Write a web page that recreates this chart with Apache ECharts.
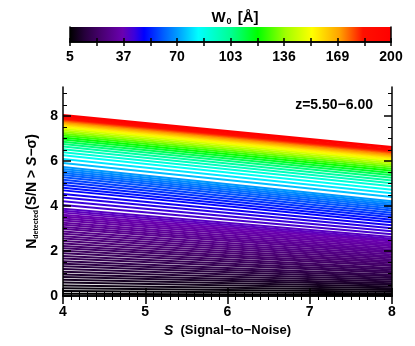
<!DOCTYPE html>
<html>
<head>
<meta charset="utf-8">
<script src="https://cdn.jsdelivr.net/npm/echarts@6/dist/echarts.min.js"></script>
<style>
  html, body { margin: 0; padding: 0; background: #fff; }
  #chart { width: 415px; height: 346px; }
</style>
</head>
<body>
<div id="chart"></div>
<script>
// one line per equivalent width W0 [A]
const w0List = [
  5, 6, 7, 8, 9, 10, 11, 12, 13, 14, 15, 16, 17, 18, 19, 20, 21, 22, 23, 24,
  25, 26, 27, 28, 29, 30, 31, 32, 33, 34, 35, 36, 37, 38, 39, 40,
  42, 44, 46, 48, 50, 52, 54, 56, 58, 60, 62, 64, 66, 68, 70,
  75, 80, 85, 90, 95, 100, 105, 110, 115, 120, 125, 130, 135, 140, 145,
  150, 155, 160, 165, 170, 175, 180, 185, 190, 195, 200
]
// N_detected read at S = 4 (left edge)
const nAtS4 = [
  0.10, 0.22, 0.35, 0.47, 0.60, 0.72, 0.84, 0.96, 1.08, 1.20, 1.32, 1.44, 1.55, 1.67, 1.78, 1.90, 2.01, 2.12, 2.23, 2.34,
  2.45, 2.56, 2.66, 2.77, 2.87, 2.98, 3.07, 3.17, 3.26, 3.36, 3.45, 3.54, 3.62, 3.71, 3.79, 3.88,
  4.05, 4.22, 4.38, 4.54, 4.70, 4.82, 4.94, 5.06, 5.17, 5.28, 5.38, 5.47, 5.56, 5.65, 5.74,
  5.92, 6.10, 6.26, 6.40, 6.53, 6.65, 6.76, 6.86, 6.96, 7.05, 7.14, 7.22, 7.30, 7.37, 7.44,
  7.51, 7.57, 7.63, 7.69, 7.74, 7.80, 7.85, 7.90, 7.95, 8.00, 8.05
]
// N_detected read at S = 8 (right edge)
const nAtS8 = [
  0.04, 0.11, 0.19, 0.27, 0.34, 0.42, 0.50, 0.57, 0.65, 0.72, 0.80, 0.88, 0.95, 1.03, 1.10, 1.18, 1.25, 1.33, 1.40, 1.48,
  1.55, 1.62, 1.70, 1.77, 1.85, 1.92, 1.99, 2.06, 2.14, 2.21, 2.28, 2.35, 2.42, 2.48, 2.55, 2.62,
  2.75, 2.88, 3.02, 3.15, 3.28, 3.39, 3.50, 3.60, 3.70, 3.80, 3.89, 3.98, 4.06, 4.14, 4.22,
  4.40, 4.57, 4.73, 4.88, 5.02, 5.14, 5.26, 5.37, 5.47, 5.57, 5.66, 5.75, 5.83, 5.91, 5.98,
  6.05, 6.12, 6.18, 6.24, 6.30, 6.36, 6.42, 6.47, 6.52, 6.58, 6.63
]

// colour table (W0 -> colour)
const cbarStopW = [5, 14, 24, 37, 44, 50, 62, 72, 83, 103, 119, 136, 152, 169, 183, 200]
const cbarStopColor = ['#000000', '#26003c', '#480070', '#6a00b0', '#3c00dc', '#0000ff', '#0060ff', '#00a8ff',
  '#00ffff', '#00ff90', '#00ff00', '#a0ff00', '#ffff00', '#ffa000', '#ff1000', '#ff0000']
const cbarTickValues = [5, 37.5, 70, 102.5, 135, 167.5, 200]
const cbarTickLabels = ['5', '37', '70', '103', '136', '169', '200']
const cbarSmallTicks = [5, 21.25, 37.5, 53.75, 70, 86.25, 102.5, 118.75, 135, 151.25, 167.5, 183.75, 200]
const yMajorTicks = [0, 2, 4, 6, 8]
const yMinorTicks = [0.5, 1, 1.5, 2.5, 3, 3.5, 4.5, 5, 5.5, 6.5, 7, 7.5, 8.5, 9]

function hexRgb(h) {
  return [parseInt(h.slice(1, 3), 16), parseInt(h.slice(3, 5), 16), parseInt(h.slice(5, 7), 16)]
}
function w0Color(w) {
  let i = 0
  while (i < cbarStopW.length - 2 && w > cbarStopW[i + 1]) i++
  const t = Math.min(1, Math.max(0, (w - cbarStopW[i]) / (cbarStopW[i + 1] - cbarStopW[i])))
  const a = hexRgb(cbarStopColor[i])
  const b = hexRgb(cbarStopColor[i + 1])
  const c = a.map((v, k) => Math.round(v + (b[k] - v) * t))
  return 'rgb(' + c.join(',') + ')'
}

const chart = echarts.init(document.getElementById('chart'))
const FONT = 'Liberation Sans'
const cbarGradient = new echarts.graphic.LinearGradient(0, 0, 1, 0,
  cbarStopW.map((w, i) => ({ offset: (w - 5) / 195, color: cbarStopColor[i] })))

const lineSeries = w0List.map((w, i) => ({
  type: 'line',
  xAxisIndex: 0,
  yAxisIndex: 0,
  data: [[4, nAtS4[i]], [8, nAtS8[i]]],
  showSymbol: false,
  silent: true,
  lineStyle: { width: 2, color: w0Color(w) }
}))

const black = { color: '#000', width: 1.5 }

const option = {
  animation: false,
  backgroundColor: '#fff',
  textStyle: { fontFamily: FONT },
  title: [
    {
      text: '{a|W}{s|0}{a| [Å]}',
      left: 230, top: 4, textAlign: 'center',
      textStyle: {
        rich: {
          a: { fontFamily: FONT, fontSize: 15, fontWeight: 'bold', color: '#000' },
          s: { fontFamily: FONT, fontSize: 9, fontWeight: 'bold', color: '#000', padding: [8, 2, 0, 1] }
        }
      }
    },
    {
      text: 'z=5.50\u22126.00',
      right: 37, top: 93,
      textStyle: { fontFamily: FONT, fontSize: 14, fontWeight: 'bold', color: '#000' }
    }
  ],
  grid: [
    { left: 63, right: 23, top: 87, bottom: 50 },
    { left: 70, right: 24, top: 27, height: 15 }
  ],
  xAxis: [
    {
      gridIndex: 0, type: 'value', min: 4, max: 8, interval: 1, position: 'bottom', z: 10,
      name: '{i|S}{a|  (Signal\u2212to\u2212Noise)}', nameLocation: 'middle', nameGap: 25,
      nameTextStyle: {
        rich: {
          i: { fontFamily: FONT, fontSize: 14, fontWeight: 'bold', fontStyle: 'italic', color: '#000' },
          a: { fontFamily: FONT, fontSize: 13, fontWeight: 'bold', color: '#000' }
        }
      },
      axisLine: { show: true, lineStyle: black },
      axisTick: { inside: true, length: 8, lineStyle: black },
      minorTick: { show: true, splitNumber: 10, length: 4, lineStyle: { color: '#000', width: 1 } },
      axisLabel: { margin: 9, color: '#000', fontSize: 14, fontWeight: 'bold', fontFamily: FONT },
      splitLine: { show: false }
    },
    {
      gridIndex: 0, type: 'value', min: 4, max: 8, interval: 1, position: 'top', z: 10,
      axisLine: { show: true, lineStyle: black },
      axisTick: { inside: true, length: 8, lineStyle: black },
      minorTick: { show: true, splitNumber: 10, length: 4, lineStyle: { color: '#000', width: 1 } },
      axisLabel: { show: false },
      splitLine: { show: false }
    },
    {
      gridIndex: 1, type: 'value', min: 5, max: 200, position: 'bottom', z: 10,
      axisLine: { show: true, lineStyle: black },
      axisTick: { show: true, inside: true, length: 4, customValues: cbarSmallTicks, lineStyle: black },
      axisLabel: {
        customValues: cbarTickValues, margin: 8, color: '#000', fontSize: 14, fontWeight: 'bold', fontFamily: FONT,
        formatter: v => cbarTickLabels[cbarTickValues.indexOf(v)]
      },
      splitLine: { show: false }
    },
    {
      gridIndex: 1, type: 'value', min: 5, max: 200, position: 'top', z: 10,
      axisLine: { show: true, lineStyle: black },
      axisTick: { show: true, inside: true, length: 4, customValues: cbarSmallTicks, lineStyle: black },
      axisLabel: { show: false },
      splitLine: { show: false }
    }
  ],
  yAxis: [
    {
      gridIndex: 0, type: 'value', min: 0, max: 9.3, position: 'left', z: 10,
      name: '{a|N}{s|detected}{a|(S/N > }{i|S}{a|\u2212\u03c3)}',
      nameLocation: 'middle', nameRotate: 90, nameGap: 22,
      nameTextStyle: {
        rich: {
          a: { fontFamily: FONT, fontSize: 14, fontWeight: 'bold', color: '#000' },
          i: { fontFamily: FONT, fontSize: 14, fontWeight: 'bold', fontStyle: 'italic', color: '#000' },
          s: { fontFamily: FONT, fontSize: 7, fontWeight: 'bold', color: '#000', padding: [8, 0, 0, 0] }
        }
      },
      axisLine: { show: true, lineStyle: black },
      axisTick: { inside: true, length: 8, customValues: yMajorTicks, lineStyle: black },
      axisLabel: { customValues: yMajorTicks, margin: 5, color: '#000', fontSize: 14, fontWeight: 'bold', fontFamily: FONT },
      splitLine: { show: false }
    },
    {
      gridIndex: 0, type: 'value', min: 0, max: 9.3, position: 'right', z: 10,
      axisLine: { show: true, lineStyle: black },
      axisTick: { inside: true, length: 8, customValues: yMajorTicks, lineStyle: black },
      axisLabel: { show: false },
      splitLine: { show: false }
    },
    {
      gridIndex: 0, type: 'value', min: 0, max: 9.3, position: 'left', offset: 0, z: 10,
      axisLine: { show: false },
      axisTick: { inside: true, length: 4, customValues: yMinorTicks, lineStyle: { color: '#000', width: 1 } },
      axisLabel: { show: false },
      splitLine: { show: false }
    },
    {
      gridIndex: 0, type: 'value', min: 0, max: 9.3, position: 'right', offset: 0, z: 10,
      axisLine: { show: false },
      axisTick: { inside: true, length: 4, customValues: yMinorTicks, lineStyle: { color: '#000', width: 1 } },
      axisLabel: { show: false },
      splitLine: { show: false }
    },
    {
      gridIndex: 1, type: 'value', min: 0, max: 1, position: 'left', z: 10,
      axisLine: { show: true, lineStyle: black },
      axisTick: { show: false }, axisLabel: { show: false }, splitLine: { show: false }
    },
    {
      gridIndex: 1, type: 'value', min: 0, max: 1, position: 'right', z: 10,
      axisLine: { show: true, lineStyle: black },
      axisTick: { show: false }, axisLabel: { show: false }, splitLine: { show: false }
    }
  ],
  series: lineSeries.concat([
    {
      type: 'custom',
      xAxisIndex: 2,
      yAxisIndex: 4,
      silent: true,
      data: [[5, 200]],
      encode: { x: [0, 1] },
      renderItem: function (params, api) {
        const p0 = api.coord([api.value(0), 1])
        const p1 = api.coord([api.value(1), 0])
        return {
          type: 'rect',
          shape: { x: p0[0], y: p0[1], width: p1[0] - p0[0], height: p1[1] - p0[1] },
          style: { fill: cbarGradient }
        }
      }
    }
  ])
}

chart.setOption(option)
</script>
</body>
</html>
